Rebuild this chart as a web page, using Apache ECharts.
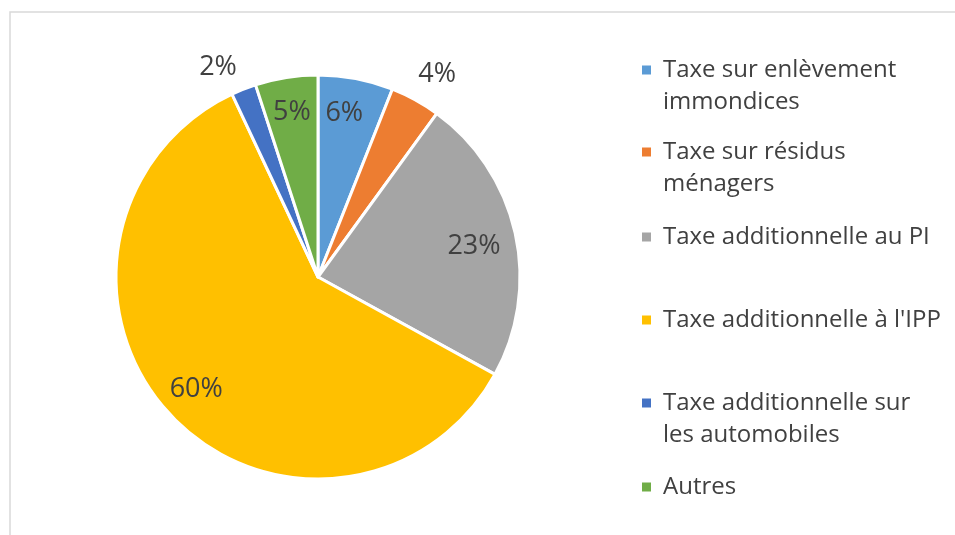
<!DOCTYPE html>
<html>
<head>
<meta charset="utf-8">
<script src="https://cdn.jsdelivr.net/npm/echarts@6/dist/echarts.min.js"></script>
<style>
  html, body { margin: 0; padding: 0; background: #fff; }
  #chart { width: 955px; height: 535px; }
</style>
</head>
<body>
<div id="chart"></div>
<script>
const categories = [
  "Taxe sur enlèvement immondices",
  "Taxe sur résidus ménagers",
  "Taxe additionnelle au PI",
  "Taxe additionnelle à l'IPP",
  "Taxe additionnelle sur les automobiles",
  "Autres",
];
const values = [6, 4, 23, 60, 2, 5];
const colors = ["#5B9BD5", "#ED7D31", "#A5A5A5", "#FFC000", "#4472C4", "#70AD47"];
// legend text, wrapped as in the reference
const legendLines = [
  ["Taxe sur enlèvement", "immondices"],
  ["Taxe sur résidus", "ménagers"],
  ["Taxe additionnelle au PI"],
  ["Taxe additionnelle à l'IPP"],
  ["Taxe additionnelle sur", "les automobiles"],
  ["Autres"],
];
const legendTops = [70, 152, 237, 320, 403, 487]; // centre of first line
// labels drawn outside the pie
const outsideLabels = [1, 4];

const FONT = '"Open Sans", "Noto Sans", sans-serif';
const TEXT = "#404040";
const center = [318, 277];
const R = 202;
const LH = 32;

const chart = echarts.init(document.getElementById("chart"));

const legends = categories.map((name, i) => {
  const lines = legendLines[i];
  // with two lines, an empty first line keeps the icon level with the first line
  const text = lines.length > 1 ? "\n" + lines.join("\n") : lines[0];
  const nLines = lines.length > 1 ? 3 : 1;
  return {
    data: [name],
    left: 640,
    top: legendTops[i] - (nLines * LH) / 2,
    padding: 0,
    itemWidth: 11,
    itemHeight: 11,
    icon: "rect",
    selectedMode: false,
    formatter: () => text,
    textStyle: {
      fontFamily: FONT,
      fontSize: 24,
      color: TEXT,
      lineHeight: LH,
      padding: [0, 0, 0, 6],
    },
  };
});

const labelStyle = {
  fontFamily: FONT,
  fontSize: 27,
  color: TEXT,
  formatter: (p) => p.value + "%",
};
const labelOffsets = [[-5, 0], [4, 7], [-7, 6], [0, -2], [-12, 13], [0, 0]];

const ring = (radius, showIdx) => ({
  type: "pie",
  center,
  radius,
  startAngle: 90,
  clockwise: true,
  silent: true,
  avoidLabelOverlap: false,
  itemStyle: { color: "transparent" },
  labelLine: { show: false },
  data: categories.map((name, i) => ({
    name,
    value: values[i],
    itemStyle: { color: "transparent" },
    label: Object.assign({}, labelStyle, {
      show: showIdx(i),
      position: "inside",
      offset: labelOffsets[i],
    }),
  })),
});

chart.setOption({
  animation: false,
  graphic: [
    {
      type: "rect",
      shape: { x: 10, y: 12, width: 1000, height: 600 },
      style: { fill: "none", stroke: "#d9d9d9", lineWidth: 1.5 },
      silent: true,
    },
  ],
  legend: legends,
  series: [
    {
      type: "pie",
      center,
      radius: [0, R],
      startAngle: 90,
      clockwise: true,
      silent: true,
      itemStyle: { borderColor: "#fff", borderWidth: 3 },
      label: { show: false },
      labelLine: { show: false },
      data: categories.map((name, i) => ({
        name,
        value: values[i],
        itemStyle: { color: colors[i] },
      })),
    },
    // invisible rings that carry the value labels
    ring([126, R], (i) => !outsideLabels.includes(i)),
    ring([R, 270], (i) => outsideLabels.includes(i)),
  ],
});
</script>
</body>
</html>
